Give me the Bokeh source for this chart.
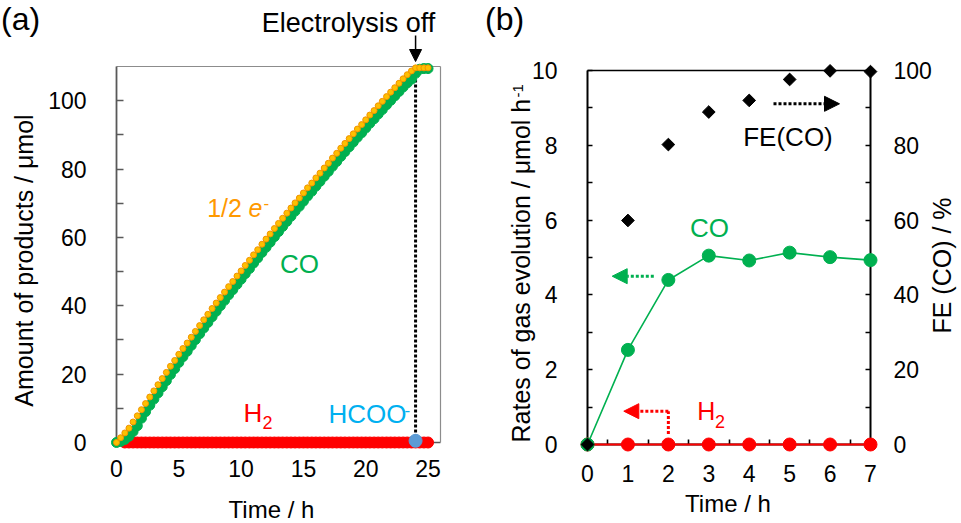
import math
from bokeh.plotting import figure
from bokeh.models import Range1d, LinearAxis, FixedTicker, Label, Arrow, NormalHead
from bokeh.layouts import row
from bokeh.embed import file_html
from bokeh.resources import INLINE

FONT = "Liberation Sans"

# ---------------- data: panel (a) ----------------
time_a = [0.00, 0.33, 0.67, 1.00, 1.33, 1.67, 2.00, 2.33, 2.67, 3.00, 3.33, 3.67,
          4.00, 4.33, 4.67, 5.00, 5.33, 5.67, 6.00, 6.33, 6.67, 7.00, 7.33, 7.67,
          8.00, 8.33, 8.67, 9.00, 9.33, 9.67, 10.00, 10.33, 10.67, 11.00, 11.33, 11.67,
          12.00, 12.33, 12.67, 13.00, 13.33, 13.67, 14.00, 14.33, 14.67, 15.00, 15.33, 15.67,
          16.00, 16.33, 16.67, 17.00, 17.33, 17.67, 18.00, 18.33, 18.67, 19.00, 19.33, 19.67,
          20.00, 20.33, 20.67, 21.00, 21.33, 21.67, 22.00, 22.33, 22.67, 23.00, 23.33, 23.67,
          24.00, 24.33, 24.67, 25.00]
half_e = [0.0, 1.4, 2.8, 4.2, 6.0, 7.8, 9.6, 11.4, 13.3, 15.1, 16.9, 18.7,
          20.5, 22.3, 24.0, 25.8, 27.5, 29.1, 30.8, 32.5, 34.2, 35.9, 37.5, 39.2,
          40.8, 42.4, 44.0, 45.6, 47.1, 48.7, 50.2, 51.8, 53.3, 54.9, 56.4, 58.0,
          59.5, 61.0, 62.6, 64.1, 65.6, 67.1, 68.6, 70.1, 71.5, 73.0, 74.5, 75.9,
          77.4, 78.8, 80.3, 81.7, 83.2, 84.6, 86.1, 87.5, 88.9, 90.3, 91.7, 93.0,
          94.4, 95.8, 97.1, 98.5, 99.8, 101.2, 102.5, 103.8, 105.1, 106.4, 107.6, 108.7,
          109.6, 109.6, 109.6, 109.6]
co_a = [0.0, 0.3, 0.9, 1.8, 3.2, 4.9, 7.1, 9.0, 10.9, 12.7, 14.5, 16.3,
        18.1, 19.9, 21.6, 23.4, 25.1, 26.7, 28.4, 30.1, 31.8, 33.5, 35.1, 36.8,
        38.4, 40.0, 41.6, 43.2, 44.7, 46.3, 47.8, 49.4, 50.9, 52.5, 54.0, 55.6,
        57.1, 58.6, 60.2, 61.7, 63.2, 64.7, 66.2, 67.7, 69.1, 70.6, 72.1, 73.5,
        75.0, 76.4, 77.9, 79.3, 80.8, 82.2, 83.7, 85.1, 86.5, 87.9, 89.3, 90.6,
        92.0, 93.4, 94.7, 96.1, 97.4, 98.8, 100.1, 101.4, 102.7, 104.0, 105.2, 106.3,
        108.0, 109.2, 109.4, 109.4]
h2_time_a = time_a[2:]
h2_a = [0.0, 0.0, 0.0, 0.0, 0.0, 0.0, 0.0, 0.0, 0.0, 0.0,
        0.0, 0.0, 0.0, 0.0, 0.0, 0.0, 0.0, 0.0, 0.0, 0.0,
        0.0, 0.0, 0.0, 0.0, 0.0, 0.0, 0.0, 0.0, 0.0, 0.0,
        0.0, 0.0, 0.0, 0.0, 0.0, 0.0, 0.0, 0.0, 0.0, 0.0,
        0.0, 0.0, 0.0, 0.0, 0.0, 0.0, 0.0, 0.0, 0.0, 0.0,
        0.0, 0.0, 0.0, 0.0, 0.0, 0.0, 0.0, 0.0, 0.0, 0.0,
        0.0, 0.0, 0.0, 0.0, 0.0, 0.0, 0.0, 0.0, 0.0, 0.0,
        0.0, 0.0, 0.0, 0.0]
hcoo_time = [24.0]
hcoo_a = [0.5]
off_time = 24.0
xticks_a = [0, 5, 10, 15, 20, 25]
yticks_a = [0, 20, 40, 60, 80, 100]
yminor_a = [10, 30, 50, 70, 90]
xlim_a = (0, 26)
ylim_a = (0, 110)

# ---------------- data: panel (b) ----------------
time_b = [0, 1, 2, 3, 4, 5, 6, 7]
co_rate = [0.0, 2.53, 4.40, 5.05, 4.92, 5.13, 5.01, 4.93]
h2_rate = [0.0, 0.0, 0.0, 0.0, 0.0, 0.0, 0.0, 0.0]
fe_co = [0.0, 59.9, 80.2, 88.9, 92.0, 97.6, 99.9, 99.7]
xticks_b = [0, 1, 2, 3, 4, 5, 6, 7]
xminor_b = [0.5, 1.5, 2.5, 3.5, 4.5, 5.5, 6.5]
yticks_b = [0, 2, 4, 6, 8, 10]
yminor_b = [1, 3, 5, 7, 9]
fe_ticks = [0, 20, 40, 60, 80, 100]
fe_minor = [10, 30, 50, 70, 90]
xlim_b = (0, 7)
ylim_b = (0, 10)
felim = (0, 100)

assert len(time_a) == len(half_e) == len(co_a)
assert len(h2_time_a) == len(h2_a)

# ---------------- layout helpers (page pixel geometry) ----------------
H = 523
BASELINE_FIX = 0.37   # empirical shift (in em) between requested and drawn baseline


class Map:
    """Maps page pixels to data values; the plotting frame fills the whole canvas."""

    def __init__(self, ox, w, x0px, x1px, xlim, y0px, y1px, ylim):
        self.ox, self.w = ox, w
        self.kx = (x1px - x0px) / (xlim[1] - xlim[0])
        self.ky = (y0px - y1px) / (ylim[1] - ylim[0])
        self.x0px, self.y0px = x0px, y0px
        self.xlim, self.ylim = xlim, ylim

    def x(self, px):
        return self.xlim[0] + (px - self.x0px) / self.kx

    def y(self, py):
        return self.ylim[0] + (self.y0px - py) / self.ky

    def fig(self):
        p = figure(width=self.w, height=H,
                   x_range=Range1d(self.x(self.ox), self.x(self.ox + self.w)),
                   y_range=Range1d(self.y(H), self.y(0)),
                   min_border=0, min_border_left=0, min_border_right=0,
                   min_border_top=0, min_border_bottom=0,
                   toolbar_location=None, tools="", output_backend="svg")
        p.outline_line_color = None
        p.xgrid.grid_line_color = None
        p.ygrid.grid_line_color = None
        return p


def style_axis(ax, ticks, minor, color, lw, tick_len, standoff, font_size="23px"):
    ax.ticker = FixedTicker(ticks=ticks, minor_ticks=minor)
    ax.axis_line_color = color
    ax.axis_line_width = lw
    ax.major_tick_line_color = color
    ax.minor_tick_line_color = color
    ax.major_tick_line_width = lw * 0.8
    ax.minor_tick_line_width = lw * 0.8
    ax.major_tick_in = tick_len
    ax.major_tick_out = 0
    ax.minor_tick_in = tick_len
    ax.minor_tick_out = 0
    ax.major_label_standoff = standoff
    ax.major_label_text_font = FONT
    ax.major_label_text_font_size = font_size
    ax.major_label_text_color = "black"
    ax.level = "underlay"


def frame_line(p, side, loc, bounds, color, lw, **kw):
    ax = LinearAxis(ticker=FixedTicker(ticks=[]), fixed_location=loc, bounds=bounds,
                    axis_line_color=color, axis_line_width=lw, **kw)
    ax.major_label_text_font_size = "0px"
    ax.level = "underlay"
    p.add_layout(ax, side)


def lab(p, m, text, px, py, size, color="black", angle=0, align="left", style="normal"):
    """Place a text; px, py are the page pixels of the wanted baseline anchor."""
    if angle == 0:
        py = py - BASELINE_FIX * size
    else:
        px = px - BASELINE_FIX * size
    p.add_layout(Label(x=m.x(px), y=m.y(py), text=text, text_font=FONT,
                       text_font_size=f"{size}px", text_color=color,
                       angle=angle, angle_units="deg", text_align=align,
                       text_baseline="alphabetic", text_font_style=style))


# ---------------- panel (a) ----------------
ma = Map(0, 480, 116, 440, xlim_a, 442, 66, ylim_a)
p1 = ma.fig()
GREY = "#595959"
xa = p1.xaxis[0]
ya = p1.yaxis[0]
xa.fixed_location = ylim_a[0]
xa.bounds = xlim_a
ya.fixed_location = xlim_a[0]
ya.bounds = ylim_a
style_axis(xa, xticks_a, [], GREY, 1.6, 5, 17)
style_axis(ya, yticks_a, yminor_a, GREY, 1.8, 7, 30)
frame_line(p1, "above", ylim_a[1], xlim_a, "#8c8c8c", 1.2)
frame_line(p1, "right", xlim_a[1], ylim_a, "#8c8c8c", 1.2)

p1.line([off_time, off_time], [ylim_a[0], ylim_a[1]], line_color="black",
        line_width=3, line_dash="3 2")
p1.scatter(h2_time_a, h2_a, size=11, fill_color="#ff0000", line_color="#ff0000")
p1.scatter(time_a, co_a, size=10, fill_color="#00b050", line_color="#00b050")
p1.scatter(time_a, half_e, size=6, fill_color="#ffbf00", line_color="#f29400", line_width=1)
p1.scatter(hcoo_time, hcoo_a, size=13, fill_color="#5b9bd5", line_color="#5b9bd5")

p1.add_layout(Arrow(x_start=off_time, y_start=ma.y(35), x_end=off_time, y_end=ma.y(61),
                    line_color="black", line_width=1.5,
                    end=NormalHead(size=12, fill_color="black", line_color="black")))
lab(p1, ma, "(a)", 0.5, 30, 32)
lab(p1, ma, "Electrolysis off", 348, 32, 27, align="center")
lab(p1, ma, "Amount of products / \u03bcmol", 32.5, 260, 25, angle=90, align="center")
lab(p1, ma, "Time / h", 271, 518, 24, align="center")
ORANGE = "#ff9900"
lab(p1, ma, "1/2 ", 206.7, 216.7, 25, ORANGE)
lab(p1, ma, "e", 248.0, 216.7, 25, ORANGE, style="italic")
lab(p1, ma, "-", 263.0, 208.5, 17, ORANGE)
lab(p1, ma, "CO", 299, 273.5, 26, "#00b050", align="center")
lab(p1, ma, "H", 243, 422.3, 26, "#ff0000")
lab(p1, ma, "2", 262, 428.5, 18, "#ff0000")
lab(p1, ma, "HCOO", 328, 423.3, 26, "#00b0f0")
lab(p1, ma, "-", 404, 415.5, 17, "#00b0f0")

# ---------------- panel (b) ----------------
mb = Map(480, 481, 587, 870, xlim_b, 444, 70, ylim_b)
p2 = mb.fig()
fe_scale = (felim[1] - felim[0]) / (ylim_b[1] - ylim_b[0])
p2.extra_y_ranges = {"fe": Range1d(p2.y_range.start * fe_scale, p2.y_range.end * fe_scale)}
xb = p2.xaxis[0]
yb = p2.yaxis[0]
xb.fixed_location = ylim_b[0]
xb.bounds = xlim_b
yb.fixed_location = xlim_b[0]
yb.bounds = ylim_b
style_axis(xb, xticks_b, xminor_b, "black", 2, 5, 20)
style_axis(yb, yticks_b, yminor_b, "black", 2, 5, 30)
rb = LinearAxis(y_range_name="fe", fixed_location=xlim_b[1], bounds=felim)
style_axis(rb, fe_ticks, fe_minor, "black", 2, 5, 23)
p2.add_layout(rb, "right")
frame_line(p2, "above", ylim_b[1], xlim_b, "black", 1.6)

p2.line(time_b, h2_rate, line_color="#ff0000", line_width=2)
p2.scatter(time_b, h2_rate, size=13, fill_color="#ff0000", line_color="#ff0000")
p2.line(time_b, co_rate, line_color="#00b050", line_width=1.6)
p2.scatter(time_b, co_rate, size=13, fill_color="#00b050", line_color="#00b050")
p2.scatter(time_b, fe_co, marker="square", angle=math.pi / 4, size=9,
           fill_color="black", line_color="black", y_range_name="fe")

# arrows
p2.add_layout(Arrow(x_start=mb.x(773), y_start=mb.y(103.3), x_end=mb.x(839), y_end=mb.y(103.3),
                    line_color="black", line_width=3, line_dash="3 2",
                    end=NormalHead(size=15, fill_color="black", line_color="black")))
p2.add_layout(Arrow(x_start=mb.x(653.3), y_start=mb.y(275.7), x_end=mb.x(611.7), y_end=mb.y(275.7),
                    line_color="#00b050", line_width=3, line_dash="3 2",
                    end=NormalHead(size=15, fill_color="#00b050", line_color="#00b050")))
p2.add_layout(Arrow(x_start=time_b[2], y_start=mb.y(433.5), x_end=time_b[2], y_end=mb.y(410.7),
                    line_color="#ff0000", line_width=3, line_dash="3 2", end=None))
p2.add_layout(Arrow(x_start=time_b[2], y_start=mb.y(410.7), x_end=mb.x(623.3), y_end=mb.y(410.7),
                    line_color="#ff0000", line_width=3, line_dash="3 2",
                    end=NormalHead(size=15, fill_color="#ff0000", line_color="#ff0000")))

lab(p2, mb, "(b)", 484.5, 30, 32)
lab(p2, mb, "Rates of gas evolution / \u03bcmol h", 530, 442, 25, angle=90)
lab(p2, mb, "-1", 523.5, 97.0, 15, angle=90)
lab(p2, mb, "FE (CO) / %", 951, 265, 25, angle=90, align="center")
lab(p2, mb, "Time / h", 727.5, 512, 24, align="center")
lab(p2, mb, "FE(CO)", 787.5, 146, 26, align="center")
lab(p2, mb, "CO", 709, 237.5, 26, "#00b050", align="center")
lab(p2, mb, "H", 696.7, 420, 25, "#ff0000")
lab(p2, mb, "2", 714.5, 428, 18, "#ff0000")

layout = row(p1, p2)
open("out.html", "w").write(file_html(layout, INLINE))
